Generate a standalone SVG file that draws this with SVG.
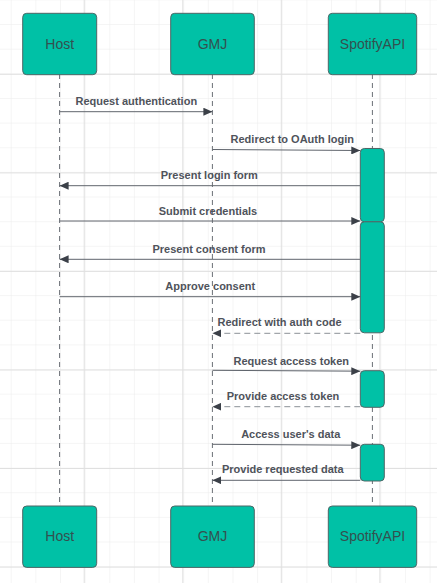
<svg xmlns="http://www.w3.org/2000/svg" width="437" height="583" viewBox="0 0 437 583">
<style>
.bg{fill:#ffffff}
.gm{stroke:#ececec;stroke-width:1}
.gM{stroke:#e0e0e0;stroke-width:1}
.node rect{fill:#00c1a6;stroke:#4f6666;stroke-width:1}
.node text{font-family:"Liberation Sans",Arial,sans-serif;font-size:14px;fill:#34504f;text-anchor:middle;dominant-baseline:central}
.life{stroke:#6b6f76;stroke-width:1;stroke-dasharray:5 4;fill:none}
.act{fill:#00c1a6;stroke:#4f6666;stroke-width:1}
.msg{stroke:#60656d;stroke-width:1;fill:none}
.ret{stroke:#8b9097;stroke-width:1;stroke-dasharray:6 4;fill:none}
.lbl{font-family:"Liberation Sans",Arial,sans-serif;font-size:11px;font-weight:bold;fill:#4f535b;text-anchor:middle}
</style>
<defs>
<marker id="ah" markerWidth="10" markerHeight="8" refX="9" refY="4" orient="auto" markerUnits="userSpaceOnUse">
<path d="M0,0 L9,4 L0,8 Z" fill="#3b4048"/>
</marker>
<pattern id="grid" x="-12.94" y="-24.24" width="24.64" height="24.64" patternUnits="userSpaceOnUse">
<path d="M24.64,0 V24.64 M0,24.64 H24.64" class="gm"/>
</pattern>
</defs>
<rect class="bg" x="0" y="0" width="437" height="583"/>
<g id="grid-lines">
<rect x="0" y="0" width="437" height="583" fill="url(#grid)"/>
<path class="gM" d="M84.2,0 V583 M182.8,0 V583 M281.3,0 V583 M379.9,0 V583 M0,74.3 H437 M0,172.9 H437 M0,271.4 H437 M0,370 H437 M0,468.5 H437 M0,567.1 H437"/>
</g>
<g id="lifelines">
<line class="life" x1="59.6" y1="74" x2="59.6" y2="506"/>
<line class="life" x1="212.4" y1="74" x2="212.4" y2="506"/>
<line class="life" x1="372.4" y1="74" x2="372.4" y2="506"/>
</g>
<g id="node-host-top" class="node"><rect x="22.7" y="13.3" width="74" height="61.4" rx="4"/><text x="59.7" y="43.5">Host</text></g>
<g id="node-gmj-top" class="node"><rect x="170.7" y="13.3" width="83.6" height="61.4" rx="4"/><text x="212.5" y="43.5">GMJ</text></g>
<g id="node-spotify-top" class="node"><rect x="328.3" y="13.3" width="88.4" height="61.4" rx="4"/><text x="372.5" y="43.5">SpotifyAPI</text></g>
<g id="node-host-bottom" class="node"><rect x="22.7" y="506" width="74" height="61.4" rx="4"/><text x="59.7" y="536">Host</text></g>
<g id="node-gmj-bottom" class="node"><rect x="170.7" y="506" width="83.6" height="61.4" rx="4"/><text x="212.5" y="536">GMJ</text></g>
<g id="node-spotify-bottom" class="node"><rect x="328.3" y="506" width="88.4" height="61.4" rx="4"/><text x="372.5" y="536">SpotifyAPI</text></g>
<g id="activations">
<rect class="act" x="360.3" y="148.5" width="24" height="73.3" rx="4"/>
<rect class="act" x="360.3" y="221.8" width="24" height="111" rx="4"/>
<rect class="act" x="360.3" y="370.7" width="24" height="36.6" rx="4"/>
<rect class="act" x="360.3" y="444.3" width="24" height="36.7" rx="4"/>
</g>
<g id="connectors">
<line class="msg" x1="59.6" y1="111.7" x2="212.4" y2="111.7" marker-end="url(#ah)"/>
<line class="msg" x1="212.4" y1="149.5" x2="360.3" y2="150.5" marker-end="url(#ah)"/>
<line class="msg" x1="360.3" y1="185.7" x2="59.6" y2="185.7" marker-end="url(#ah)"/>
<line class="msg" x1="59.6" y1="221" x2="360.3" y2="221" marker-end="url(#ah)"/>
<line class="msg" x1="360.3" y1="259.3" x2="59.6" y2="259.3" marker-end="url(#ah)"/>
<line class="msg" x1="59.6" y1="296.7" x2="360.3" y2="296.7" marker-end="url(#ah)"/>
<line class="ret" x1="360.3" y1="333.3" x2="212.4" y2="333.3" marker-end="url(#ah)"/>
<line class="msg" x1="212.4" y1="370.3" x2="360.3" y2="371.2" marker-end="url(#ah)"/>
<line class="ret" x1="360.3" y1="406.7" x2="212.4" y2="406.7" marker-end="url(#ah)"/>
<line class="msg" x1="212.4" y1="444.3" x2="360.3" y2="445.2" marker-end="url(#ah)"/>
<line class="msg" x1="360.3" y1="480.3" x2="212.4" y2="480.3" marker-end="url(#ah)"/>
</g>
<g id="labels">
<text class="lbl" x="136.3" y="105">Request authentication</text>
<text class="lbl" x="292.3" y="143.3">Redirect to OAuth login</text>
<text class="lbl" x="209.3" y="179">Present login form</text>
<text class="lbl" x="208" y="214.7">Submit credentials</text>
<text class="lbl" x="209" y="253">Present consent form</text>
<text class="lbl" x="210.3" y="290">Approve consent</text>
<text class="lbl" x="279.5" y="325.7">Redirect with auth code</text>
<text class="lbl" x="291.3" y="364.7">Request access token</text>
<text class="lbl" x="283" y="399.7">Provide access token</text>
<text class="lbl" x="290.8" y="438.3">Access user's data</text>
<text class="lbl" x="282.8" y="473.3">Provide requested data</text>
</g>
</svg>
